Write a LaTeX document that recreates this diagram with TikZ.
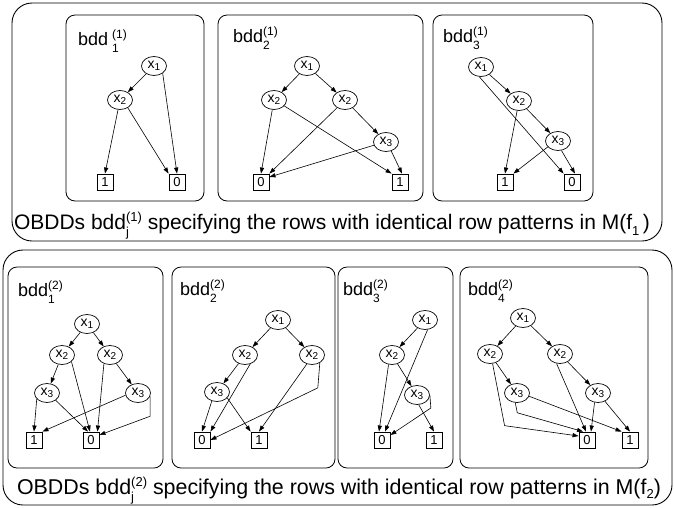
\documentclass[tikz,border=0pt]{standalone}
\usepackage{fontspec}
\setmainfont{Liberation Sans}
\usetikzlibrary{shapes.geometric,arrows.meta}
\newcommand{\vx}[1]{x\raisebox{-2.5pt}{\fontsize{10}{10}\selectfont #1}}
\newcommand{\bddlab}[3][0pt]{bdd\kern#1\rlap{\raisebox{7pt}{\fontsize{12}{12}\selectfont(#2)}}\raisebox{-7pt}{\fontsize{12}{12}\selectfont #3}}
\newcommand{\capsup}[1]{\rlap{\raisebox{-7pt}{\fontsize{13}{13}\selectfont j}}\raisebox{8pt}{\fontsize{13}{13}\selectfont (#1)}}
\tikzset{
  vnode/.style={ellipse, draw, line width=0.7pt, minimum width=25pt, minimum height=19pt, inner sep=0pt, font=\fontsize{14}{14}\selectfont},
  tnode/.style={rectangle, draw, line width=0.9pt, minimum width=16pt, minimum height=16pt, inner sep=0pt, font=\fontsize{13}{13}\selectfont},
  arr/.style={-{Triangle[length=6pt,width=4.2pt]}, line width=0.6pt},
  panel/.style={draw, rounded corners=9pt, line width=0.8pt},
  outerbox/.style={draw, rounded corners=20pt, line width=0.9pt},
  lab/.style={anchor=base west, inner sep=0pt, font=\fontsize{18}{18}\selectfont},
  captext/.style={anchor=base, inner sep=0pt, font=\fontsize{21}{21}\selectfont},
}
\begin{document}
\begin{tikzpicture}[x=1pt,y=-1pt]
\useasboundingbox (0,0) rectangle (674,507);
% outer boxes
\draw[outerbox] (12,3) rectangle (662,241);
\draw[outerbox] (3,250) rectangle (672,505);
% panels top
\draw[panel] (66,15) rectangle (204,201);
\draw[panel] (218,15) rectangle (423,201);
\draw[panel] (433,15) rectangle (593,201);
% panels bottom
\draw[panel] (8,267) rectangle (163,468);
\draw[panel] (172,267) rectangle (335,468);
\draw[panel] (338,267) rectangle (453,468);
\draw[panel] (460,267) rectangle (648,468);

% captions
\node[captext] (cap1) at (332,229) {OBDDs bdd\capsup{1} specifying the rows with identical row patterns in M(f\raisebox{-6pt}{\fontsize{13}{13}\selectfont 1}\,)};
\node[captext, font=\fontsize{21.4}{21.4}\selectfont] (cap2) at (339,494) {OBDDs bdd\capsup{2} specifying the rows with identical row patterns in M(f\raisebox{-4pt}{\fontsize{13}{13}\selectfont 2})};

% ---------- top panel 1
\node[lab] (l11) at (78,45) {\bddlab[4pt]{1}{1}};
\node[vnode] (t1x1) at (154,66) {\vx{1}};
\node[vnode] (t1x2) at (120,100) {\vx{2}};
\node[tnode] (t1o) at (105,182) {1};
\node[tnode] (t1z) at (177,182) {0};
\draw[arr] (t1x1) -- (t1x2);
\draw[arr] (t1x1.-40) -- (t1z.north);
\draw[arr] (t1x2) -- (t1o.north);
\draw[arr] (t1x2.-45) -- (t1z.north west);

% ---------- top panel 2
\node[lab] (l12) at (233,42) {\bddlab{1}{2}};
\node[vnode] (t2x1) at (307,66) {\vx{1}};
\node[vnode] (t2x2a) at (274,100) {\vx{2}};
\node[vnode] (t2x2b) at (345,100) {\vx{2}};
\node[vnode] (t2x3) at (386,142) {\vx{3}};
\node[tnode] (t2z) at (261,182) {0};
\node[tnode] (t2o) at (400,182) {1};
\draw[arr] (t2x1) -- (t2x2a);
\draw[arr] (t2x1) -- (t2x2b);
\draw[arr] (t2x2a) -- (t2z.north);
\draw[arr] (t2x2a.-30) -- (t2o.north west);
\draw[arr] (t2x2b) -- (t2z.north east);
\draw[arr] (t2x2b) -- (t2x3);
\draw[arr] (t2x3.-165) -- ([yshift=5pt]t2z.east);
\draw[arr] (t2x3.-60) -- ([xshift=2pt]t2o.north);

% ---------- top panel 3
\node[lab] (l13) at (443,42) {\bddlab{1}{3}};
\node[vnode] (t3x1) at (481,67) {\vx{1}};
\node[vnode] (t3x2) at (519,101) {\vx{2}};
\node[vnode] (t3x3) at (558,141) {\vx{3}};
\node[tnode] (t3o) at (505,182) {1};
\node[tnode] (t3z) at (572,182) {0};
\draw[arr] (t3x1) -- (t3x2);
\draw[arr] (t3x1.-100) -- (t3z.north west);
\draw[arr] (t3x2) -- (t3o.north);
\draw[arr] (t3x2) -- (t3x3);
\draw[arr] (t3x3.-150) -- (t3o.north east);
\draw[arr] (t3x3.-70) -- ([xshift=3pt]t3z.north);

% ---------- bottom panel 1
\node[lab] (l21) at (18,296) {\bddlab{2}{1}};
\node[vnode] (b1x1) at (87,324) {\vx{1}};
\node[vnode] (b1x2a) at (62,355) {\vx{2}};
\node[vnode] (b1x2b) at (110,355) {\vx{2}};
\node[vnode] (b1x3a) at (47,393) {\vx{3}};
\node[vnode] (b1x3b) at (138,393) {\vx{3}};
\node[tnode] (b1o) at (34,440) {1};
\node[tnode] (b1z) at (91,440) {0};
\draw[arr] (b1x1) -- (b1x2a);
\draw[arr] (b1x1) -- (b1x2b);
\draw[arr] (b1x2a) -- (b1x3a);
\draw[arr] (b1x2a.-35) -- ([xshift=-1pt]b1z.north);
\draw[arr] (b1x2b.-125) -- ([xshift=-2pt]b1z.north east);
\draw[arr] (b1x2b) -- (b1x3b);
\draw[arr] (b1x3a.-150) -- (b1o.north);
\draw[arr] (b1x3a.-40) -- ([xshift=-3pt]b1z.north);
\draw[arr] (b1x3b.-170) -- (b1o.north east);
\draw[arr] (b1x3b.-15) -- ++(0,20) -- ([yshift=5pt]b1z.east);

% ---------- bottom panel 2
\node[lab] (l22) at (180,295) {\bddlab{2}{2}};
\node[vnode] (b2x1) at (278,320) {\vx{1}};
\node[vnode] (b2x2a) at (245,355) {\vx{2}};
\node[vnode] (b2x2b) at (312,355) {\vx{2}};
\node[vnode] (b2x3) at (217,392) {\vx{3}};
\node[tnode] (b2z) at (202,440) {0};
\node[tnode] (b2o) at (259,440) {1};
\draw[arr] (b2x1) -- (b2x2a);
\draw[arr] (b2x1) -- (b2x2b);
\draw[arr] (b2x2a) -- (b2x3);
\draw[arr] (b2x2a.-60) -- (b2z.north east);
\draw[arr] (b2x2b.-120) -- (b2o.north);
\draw[arr] (b2x2b.-45) -- ++(-2,25) -- (b2z.east);
\draw[arr] (b2x3.-120) -- (b2z.north);
\draw[arr] (b2x3.-30) -- (b2o.north west);

% ---------- bottom panel 3
\node[lab] (l23) at (343,295) {\bddlab{2}{3}};
\node[vnode] (b3x1) at (425,320) {\vx{1}};
\node[vnode] (b3x2) at (392,355) {\vx{2}};
\node[vnode] (b3x3) at (417,395) {\vx{3}};
\node[tnode] (b3z) at (382,440) {0};
\node[tnode] (b3o) at (434,440) {1};
\draw[arr] (b3x1) -- (b3x2);
\draw[arr] (b3x1.-75) -- ([xshift=3pt]b3z.north);
\draw[arr] (b3x2.-110) -- ([xshift=-3pt]b3z.north);
\draw[arr] (b3x2) -- (b3x3);
\draw[arr] (b3x3.-80) -- (b3o.north);
\draw[arr] (b3x3.east) -- ++(1,13) -- ([yshift=5pt]b3z.east);

% ---------- bottom panel 4
\node[lab] (l24) at (468,295) {\bddlab{2}{4}};
\node[vnode] (b4x1) at (523,318) {\vx{1}};
\node[vnode] (b4x2a) at (490,354) {\vx{2}};
\node[vnode] (b4x2b) at (560,354) {\vx{2}};
\node[vnode] (b4x3a) at (517,393) {\vx{3}};
\node[vnode] (b4x3b) at (598,393) {\vx{3}};
\node[tnode] (b4z) at (587,440) {0};
\node[tnode] (b4o) at (630,440) {1};
\draw[arr] (b4x1) -- (b4x2a);
\draw[arr] (b4x1) -- (b4x2b);
\draw[arr] (b4x2a) -- (b4x3a);
\draw[arr] (b4x2b) -- (b4x3b);
\draw[arr] (b4x2a.-75) -- ++(12,62) -- ([yshift=4pt]b4z.west);
\draw[arr] (b4x3a.-100) -- ++(2,10) -- ([xshift=-4pt]b4z.north);
\draw[arr] (b4x3a.-15) -- (b4o.north west);
\draw[arr] (b4x2b.-110) -- ([xshift=-1pt]b4z.north);
\draw[arr] (b4x3b.-110) -- ([xshift=4pt]b4z.north);
\draw[arr] (b4x3b.-50) -- (b4o.north);
\end{tikzpicture}
\end{document}
